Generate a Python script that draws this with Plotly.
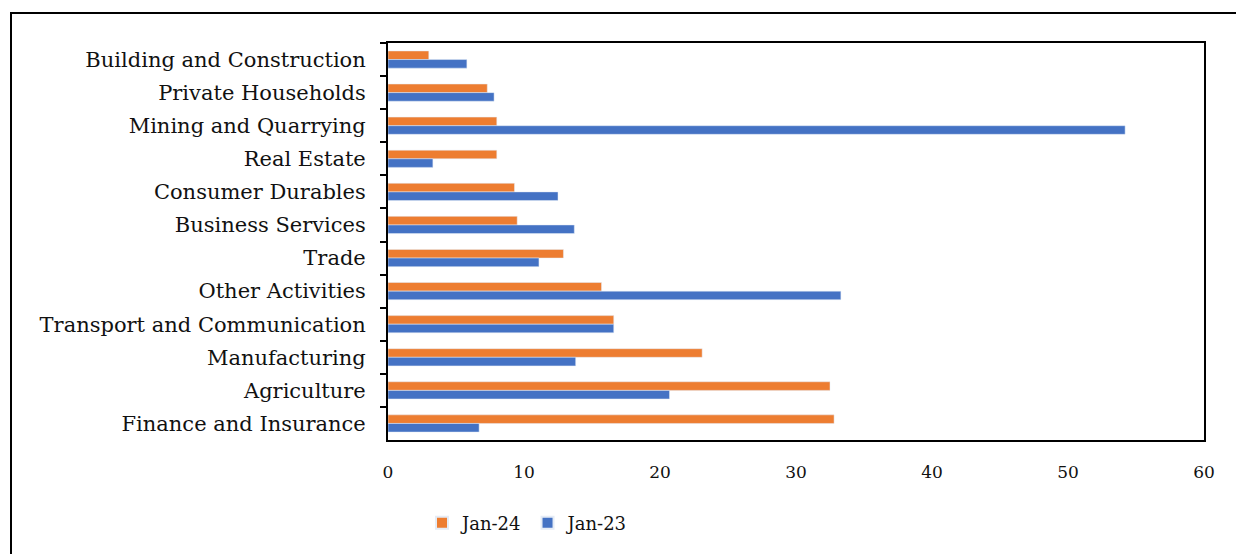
import plotly.graph_objects as go

# Sectors, listed top to bottom as drawn
sectors = [
    "Building and Construction",
    "Private Households",
    "Mining and Quarrying",
    "Real Estate",
    "Consumer Durables",
    "Business Services",
    "Trade",
    "Other Activities",
    "Transport and Communication",
    "Manufacturing",
    "Agriculture",
    "Finance and Insurance",
]
jan24 = [3.0, 7.3, 8.0, 8.0, 9.3, 9.5, 12.9, 15.7, 16.6, 23.1, 32.5, 32.8]
jan23 = [5.8, 7.8, 54.2, 3.3, 12.5, 13.7, 11.1, 33.3, 16.6, 13.8, 20.7, 6.7]
x_ticks = [0, 10, 20, 30, 40, 50, 60]

W, H = 1236, 554
L, R, T, B = 388, 32, 43, 114
pw, ph = W - L - R, H - T - B

FONT = "DejaVu Serif"

fig = go.Figure()
fig.add_trace(go.Bar(y=sectors, x=jan24, name="Jan-24", orientation="h",
                     marker=dict(color="#ED7D31")))
fig.add_trace(go.Bar(y=sectors, x=jan23, name="Jan-23", orientation="h",
                     marker=dict(color="#4472C4")))


def px_x(p):
    return (p - L) / pw


def px_y(p):
    return (H - B - p) / ph


fig.update_layout(
    width=W, height=H,
    margin=dict(l=L, r=R, t=T, b=B, autoexpand=False),
    paper_bgcolor="white", plot_bgcolor="white",
    barmode="group", bargap=0.48, bargroupgap=0.0,
    font=dict(family=FONT, size=19, color="#111111"),
    showlegend=True,
    legend=dict(orientation="h", x=px_x(422), xanchor="left",
                y=px_y(523), yanchor="middle",
                font=dict(family=FONT, size=18, color="#111111"),
                itemwidth=30, itemsizing="constant", tracegroupgap=0,
                bgcolor="rgba(0,0,0,0)"),
    xaxis=dict(range=[0, 60], tickvals=x_ticks, showgrid=False, zeroline=False,
               showline=True, linecolor="black", linewidth=2, mirror=True,
               ticks="", ticklabelstandoff=16,
               tickfont=dict(family=FONT, size=17, color="#111111")),
    yaxis=dict(autorange="reversed", showgrid=False, zeroline=False,
               showline=True, linecolor="black", linewidth=2, mirror=True,
               ticks="outside", tickson="boundaries", ticklen=6,
               tickwidth=2, tickcolor="black", ticklabelstandoff=16,
               tickfont=dict(family=FONT, size=21, color="#111111")),
    shapes=[dict(type="rect", xref="paper", yref="paper",
                 x0=px_x(11), x1=px_x(1300), y0=px_y(13), y1=px_y(600),
                 line=dict(color="black", width=2), fillcolor="rgba(0,0,0,0)",
                 layer="below")],
)

fig.write_html("out.html")
